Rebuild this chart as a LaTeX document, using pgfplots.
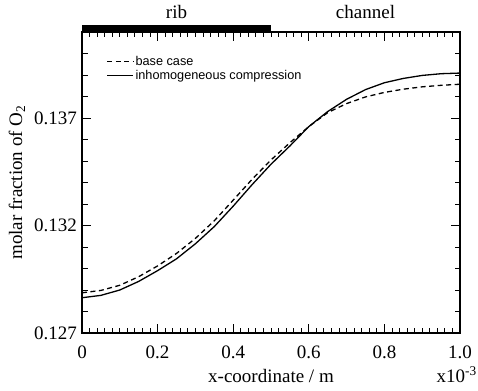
\documentclass[border=0pt]{standalone}
\usepackage{fontspec}
\setmainfont{Liberation Serif}
\newfontfamily\legendfont{Liberation Sans}
\usepackage{pgfplots}
\pgfplotsset{compat=1.18}
\pgfplotstableread{
x y
0.00 0.12864
0.05 0.12875
0.10 0.12900
0.15 0.12940
0.20 0.12990
0.25 0.13045
0.30 0.13115
0.35 0.13195
0.40 0.13290
0.45 0.13390
0.50 0.13485
0.55 0.13570
0.60 0.13660
0.65 0.13730
0.70 0.13787
0.75 0.13832
0.80 0.13864
0.85 0.13884
0.90 0.13898
0.95 0.13906
1.00 0.13909
}\inhom
\pgfplotstableread{
x y
0.00 0.12887
0.05 0.12898
0.10 0.12922
0.15 0.12962
0.20 0.13012
0.25 0.13070
0.30 0.13140
0.35 0.13222
0.40 0.13318
0.45 0.13415
0.50 0.13505
0.55 0.13585
0.60 0.13660
0.65 0.13725
0.70 0.13767
0.75 0.13798
0.80 0.13819
0.85 0.13834
0.90 0.13845
0.95 0.13852
1.00 0.13857
}\base
\begin{document}
\begin{tikzpicture}[font=\fontsize{19}{22}\selectfont]
\begin{axis}[
  name=ax,
  scale only axis,
  width=378pt, height=301pt,
  xmin=0, xmax=1, ymin=0.127, ymax=0.141,
  axis line style={line width=1.6pt},
  tick style={black, line width=0.9pt},
  xtick={0,0.2,0.4,0.6,0.8,1.0},
  xticklabels={0,0.2,0.4,0.6,0.8,1.0},
  ytick={0.127,0.132,0.137},
  yticklabels={0.127,0.132,0.137},
  extra y ticks={0.128,0.129,0.130,0.131,0.133,0.134,0.135,0.136,0.138,0.139,0.140},
  extra y tick labels={},
  extra y tick style={major tick length=5.5pt, tick style={line width=0.8pt}},
  scaled x ticks=false, scaled y ticks=false,
  major tick length=9pt,
  tick align=inside,
  /pgf/number format/assume math mode=true,
  xticklabel style={anchor=base, yshift=-25pt},
  yticklabel style={anchor=east, inner sep=0pt, xshift=-5pt},
  xlabel={x-coordinate / m},
  ylabel={molar fraction of O\textsubscript{2}},
  xlabel style={at={(axis description cs:0.5,0)}, anchor=base, yshift=-49pt},
  ylabel style={at={(axis description cs:-0.172,0.5)}, anchor=center},
  clip=false,
  legend style={draw=none, fill=none, at={(rel axis cs:0.065,0.925)}, anchor=north west,
    font=\legendfont\fontsize{12.7}{14}\selectfont, row sep=0pt,
    inner sep=0pt, nodes={inner sep=1.5pt}},
  legend cell align=left,
  legend image code/.code={\draw[#1] (0pt,0pt) -- (26pt,0pt);},
]
\addplot[black, line width=1.3pt, dash pattern=on 5pt off 3.5pt] table[x=x,y=y] {\base};
\addlegendentry{base case}
\addplot[black, line width=1.3pt] table[x=x,y=y] {\inhom};
\addlegendentry{inhomogeneous compression}
\pgfplotsinvokeforeach{0.02,0.04,0.06,0.08,0.1,0.12,0.14,0.16,0.18,0.22,0.24,0.26,0.28,0.3,0.32,0.34,0.36,0.38,0.42,0.44,0.46,0.48,0.5,0.52,0.54,0.56,0.58,0.62,0.64,0.66,0.68,0.7,0.72,0.74,0.76,0.78,0.82,0.84,0.86,0.88,0.9,0.92,0.94,0.96,0.98}{
  \draw[black, line width=0.9pt] (axis cs:#1,0.127) -- ++(0pt,5pt);
  \draw[black, line width=0.9pt] (axis cs:#1,0.141) -- ++(0pt,-5pt);
}
\fill[black] (axis cs:0,0.141) rectangle ([yshift=7pt]axis cs:0.5,0.141);
\node[anchor=base] at ([yshift=13pt]axis cs:0.25,0.141) {rib};
\node[anchor=base] at ([yshift=13pt]axis cs:0.75,0.141) {channel};
\node[anchor=base east, inner sep=0pt] at ([xshift=17pt,yshift=-49pt]rel axis cs:1,0) {x10\textsuperscript{-3}};
\end{axis}
\pgfresetboundingbox
\path[use as bounding box] ([xshift=-82pt,yshift=32pt]ax.north west) rectangle ([xshift=18pt,yshift=-57pt]ax.south east);
\end{tikzpicture}
\end{document}
